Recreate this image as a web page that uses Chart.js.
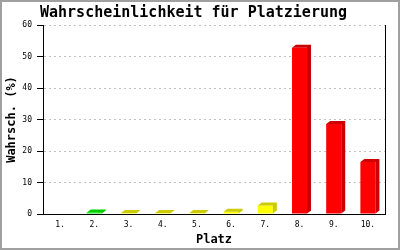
<!DOCTYPE html>
<html>
<head>
<meta charset="utf-8">
<script src="https://cdn.jsdelivr.net/npm/chart.js@4"></script>
<style>
  body { margin: 0; background: #fff; }
</style>
</head>
<body>
<canvas id="placeChart" width="400" height="250"></canvas>
<script>
// --- Data ---
const places = ['1.', '2.', '3.', '4.', '5.', '6.', '7.', '8.', '9.', '10.'];
const placeValues = [0, 0.5, 0.3, 0.3, 0.3, 0.7, 2.7, 52.8, 28.6, 16.5];
const yTicks = [0, 10, 20, 30, 40, 50, 60];

// --- Styles ---
const frontColors = ['#ff0000', '#00ff00', '#ffff00', '#ffff00', '#ffff00', '#ffff00', '#ffff00', '#ff0000', '#ff0000', '#ff0000'];
const sideColors  = ['#cc0000', '#00cc00', '#cccc00', '#cccc00', '#cccc00', '#cccc00', '#cccc00', '#cc0000', '#cc0000', '#cc0000'];
const MONO = "'DejaVu Sans Mono', monospace";
const DX = 4, DY = 3; // depth of the fake 3d bars

Chart.defaults.color = '#000';

// draws top + right side of every bar so it looks like a block
const bar3d = {
  id: 'bar3d',
  afterDatasetsDraw(chart) {
    const ctx = chart.ctx;
    const meta = chart.getDatasetMeta(0);
    meta.data.forEach((bar, i) => {
      if (!placeValues[i]) return;
      const { x, y, base, width } = bar.getProps(['x', 'y', 'base', 'width'], true);
      const l = x - width / 2, r = x + width / 2;
      ctx.save();
      ctx.fillStyle = sideColors[i];
      ctx.beginPath();
      ctx.moveTo(l, y);
      ctx.lineTo(l + DX, y - DY);
      ctx.lineTo(r + DX, y - DY);
      ctx.lineTo(r + DX, base - DY);
      ctx.lineTo(r, base);
      ctx.lineTo(r, y);
      ctx.closePath();
      ctx.fill();
      ctx.restore();
    });
  }
};

// right edge of plot + grey frame round the picture
const frame = {
  id: 'frame',
  beforeDraw(chart) {
    const ctx = chart.ctx;
    ctx.save();
    ctx.fillStyle = '#fff';
    ctx.fillRect(0, 0, chart.width, chart.height);
    ctx.restore();
  },
  afterDraw(chart) {
    const { ctx, chartArea } = chart;
    ctx.save();
    ctx.strokeStyle = '#000';
    ctx.lineWidth = 1;
    ctx.beginPath();
    ctx.moveTo(Math.round(chartArea.right) + 0.5, chartArea.top);
    ctx.lineTo(Math.round(chartArea.right) + 0.5, chartArea.bottom);
    ctx.stroke();
    ctx.strokeStyle = '#a0a0a0';
    ctx.lineWidth = 2;
    ctx.strokeRect(1, 1, chart.width - 2, chart.height - 2);
    ctx.restore();
  }
};

new Chart(document.getElementById('placeChart').getContext('2d'), {
  type: 'bar',
  data: {
    labels: places,
    datasets: [{
      data: placeValues,
      backgroundColor: frontColors,
      borderWidth: 0,
      barPercentage: 0.44,
      categoryPercentage: 1
    }]
  },
  options: {
    responsive: false,
    animation: false,
    layout: { padding: { left: 2, right: 15, top: 0, bottom: 0 } },
    plugins: {
      legend: { display: false },
      tooltip: { enabled: false },
      title: {
        display: true,
        text: 'Wahrscheinlichkeit für Platzierung',
        color: '#000',
        font: { family: MONO, size: 15, weight: 'bold' },
        padding: { top: 4, bottom: 3 }
      }
    },
    scales: {
      x: {
        grid: { display: false, drawTicks: false },
        border: { color: '#000', width: 1 },
        ticks: { font: { family: MONO, size: 8 }, color: '#000', padding: 6 },
        title: {
          display: true,
          text: 'Platz',
          color: '#000',
          font: { family: MONO, size: 12, weight: 'bold' },
          padding: { top: 0, bottom: 3 }
        },
        afterFit: (s) => { s.height = 36; }
      },
      y: {
        min: yTicks[0],
        max: yTicks[yTicks.length - 1],
        afterBuildTicks: (s) => { s.ticks = yTicks.map(v => ({ value: v })); },
        grid: { color: '#c0c0c0', tickColor: '#000', tickLength: 6, tickBorderDash: [] },
        border: { color: '#000', width: 1, dash: [2, 3] },
        ticks: { font: { family: MONO, size: 8 }, color: '#000', padding: 5 },
        title: {
          display: true,
          text: 'Wahrsch. (%)',
          color: '#000',
          font: { family: MONO, size: 12, weight: 'bold' },
          padding: { top: 3, bottom: 0 }
        },
        afterFit: (s) => { s.width = 41; }
      }
    }
  },
  plugins: [bar3d, frame]
});
</script>
</body>
</html>
